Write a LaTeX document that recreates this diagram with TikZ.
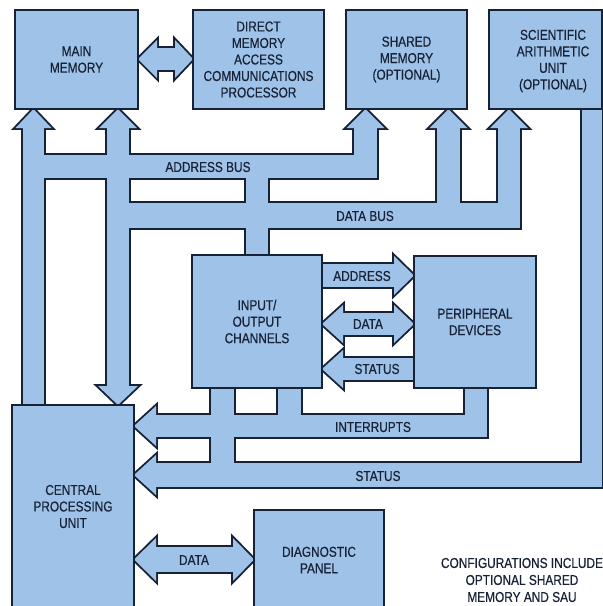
\documentclass[tikz,border=0pt]{standalone}
\usepackage{fontspec}
\setmainfont{Liberation Sans}[FakeStretch=0.83,FakeBold=0.5]
\definecolor{busblue}{RGB}{158,194,232}
\definecolor{ink}{RGB}{24,34,54}
\tikzset{
  box/.style={draw=ink, line width=1.9pt, fill=busblue, inner sep=0pt, align=center,
    text=ink, font=\fontsize{14.3}{16.5}\selectfont},
  lbl/.style={text=ink, inner sep=0pt, align=center, font=\fontsize{14.3}{16.5}\selectfont},
}
\newcommand\buspieces[1]{%
  % address bus
  \path[#1] (23,128) rectangle (44,405);
  \path[#1] (15.5,128) -- (33.5,109) -- (51.5,128) -- cycle;
  \path[#1] (23,155) rectangle (377,178);
  \path[#1] (354,128) rectangle (377,178);
  \path[#1] (346.5,128) -- (365.5,109) -- (384.5,128) -- cycle;
  \path[#1] (246,155) rectangle (268,255);
  % data bus
  \path[#1] (107,128) rectangle (129,386);
  \path[#1] (99,128) -- (118,109) -- (137,128) -- cycle;
  \path[#1] (98,386) -- (118,405) -- (138,386) -- cycle;
  \path[#1] (107,203) rectangle (520,228);
  \path[#1] (437,128) rectangle (460,228);
  \path[#1] (429.5,128) -- (448.5,109) -- (467.5,128) -- cycle;
  \path[#1] (498,128) rectangle (520,228);
  \path[#1] (490,128) -- (509,109) -- (528,128) -- cycle;
  % status bus
  \path[#1] (582,109) rectangle (602,487);
  \path[#1] (156,463) rectangle (602,487);
  \path[#1] (211,388) rectangle (234,475);
  \path[#1] (156,455) -- (134,475) -- (156,495) -- cycle;
  % interrupts bus
  \path[#1] (156,415) rectangle (487,437);
  \path[#1] (278,388) rectangle (301,426);
  \path[#1] (465,388) rectangle (487,437);
  \path[#1] (156,406) -- (134,426) -- (156,446) -- cycle;
  % I/O - peripheral: address
  \path[#1] (322,264) rectangle (394,287);
  \path[#1] (394,256) -- (414,275.5) -- (394,295) -- cycle;
  % data
  \path[#1] (343,313) rectangle (394,335);
  \path[#1] (343,305) -- (322,324) -- (343,343) -- cycle;
  \path[#1] (394,305) -- (414,324) -- (394,343) -- cycle;
  % status
  \path[#1] (343,358) rectangle (414,380);
  \path[#1] (343,350) -- (322,369) -- (343,388) -- cycle;
  % main memory - DMA
  \path[#1] (157,48) rectangle (175,70);
  \path[#1] (157,40) -- (138,59) -- (157,78) -- cycle;
  \path[#1] (175,40) -- (193,59) -- (175,78) -- cycle;
  % CPU - diagnostic
  \path[#1] (156,547) rectangle (233,572);
  \path[#1] (156,538) -- (134,559.5) -- (156,581) -- cycle;
  \path[#1] (233,538) -- (254,559.5) -- (233,581) -- cycle;
}
\begin{document}
\begin{tikzpicture}[x=1pt,y=-1pt]
\useasboundingbox (0,0) rectangle (603,606);
\fill[white] (0,0) rectangle (603,606);
% merged bus outlines, then fills
\buspieces{draw=ink, line width=3.8pt, line join=miter}
\buspieces{fill=busblue}
% boxes
\node[box, minimum width=123pt, minimum height=99pt] (mm) at (76.5,59.5) {MAIN\\MEMORY};
\node[box, minimum width=131pt, minimum height=99pt] (dma) at (258.5,59.5) {DIRECT\\MEMORY\\ACCESS\\COMMUNICATIONS\\PROCESSOR};
\node[box, minimum width=121pt, minimum height=99pt] (shm) at (406.5,59.5) {SHARED\\MEMORY\\(OPTIONAL)};
\node[box, minimum width=113pt, minimum height=99pt] (sau) at (545.5,59.5) {};
\node[lbl] (saut) at (553,61) {SCIENTIFIC\\ARITHMETIC\\UNIT\\(OPTIONAL)};
\node[box, minimum width=130pt, minimum height=133pt] (io) at (257,321.5) {INPUT/\\OUTPUT\\CHANNELS};
\node[box, minimum width=122pt, minimum height=132pt] (per) at (475,322) {PERIPHERAL\\DEVICES};
\node[box, minimum width=122pt, minimum height=203pt] (cpu) at (73,506.5) {CENTRAL\\PROCESSING\\UNIT};
\node[box, minimum width=130pt, minimum height=100pt] (diag) at (319,560) {DIAGNOSTIC\\PANEL};
% labels
\node[lbl] (labus) at (208,167) {ADDRESS BUS};
\node[lbl] (ldbus) at (365,216) {DATA BUS};
\node[lbl] (laddr) at (362,276) {ADDRESS};
\node[lbl] (ldata) at (368,324) {DATA};
\node[lbl] (lstat) at (377,369) {STATUS};
\node[lbl] (lint) at (373,427) {INTERRUPTS};
\node[lbl] (lstat2) at (378,476) {STATUS};
\node[lbl] (ldiag) at (194,560) {DATA};
\node[lbl, font=\fontsize{14.3}{17}\selectfont] (note) at (522,580) {CONFIGURATIONS INCLUDE\\OPTIONAL SHARED\\MEMORY AND SAU};
\end{tikzpicture}
\end{document}
